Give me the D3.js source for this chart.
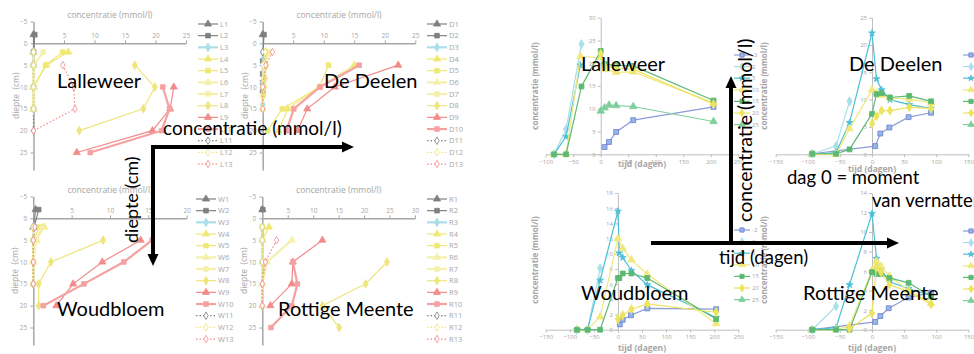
<!DOCTYPE html>
<html>
<head>
<meta charset="utf-8">
<script src="https://cdn.jsdelivr.net/npm/d3@7"></script>
<style>
  body { margin: 0; background: #fff; }
  svg text { font-family: "Open Sans", sans-serif; }
</style>
</head>
<body>
<svg id="chart" width="974" height="354"></svg>
<script>
// ---- depth profiles: [diepte (cm), concentratie (mmol/l)] per series ----
const depthTicks = [-5, 0, 5, 10, 15, 20, 25];

const lalleweerProfiles = [
  [[-2, 0], [2, 0], [5, 0], [10, 0], [15, 0]],
  [[-2, 0.2], [2, 0], [5, 0], [10, 0], [15, 0]],
  [[2, 0], [5, 0], [10, 0], [15, 0]],
  [[2, 5.7], [5, 2.1], [10, 0], [15, 0]],
  [[2, 4.8], [5, 2.0], [10, 0], [15, 0]],
  [[2, 0], [5, 0], [10, 0], [15, 0]],
  [[2, 1.6], [5, 0], [10, 0], [15, 0]],
  [[5, 16.6], [10, 19.9], [15, 18.0], [20, 7.5]],
  [[10, 23.0], [15, 22.4], [20, 19.5], [25, 7.1]],
  [[10, 21.2], [15, 22.3], [20, 21.0], [25, 9.3]],
  [[2, 0], [5, 0], [10, 0], [15, 0], [20, 0]],
  [[2, 0], [5, 0], [10, 0], [15, 0]],
  [[5, 4.8], [10, 6.6], [15, 6.8], [20, 0]]
];

const deelenProfiles = [
  [[-2, 0]],
  [[-2, 0.2], [4, 0], [7, 0], [9, 0], [11, 0]],
  [[2, 0], [9, 0], [14, 0]],
  [[5, 15.0], [10, 9.3], [15, 4.1], [20, 2.6]],
  [[5, 10.8], [10, 9.3], [15, 3.2], [20, 0.8]],
  [[2, 0.7], [5, 0.3], [10, 0], [15, 0]],
  [[2, 1.1], [5, 0.2], [12, 0], [15, 0]],
  [[2, 0.5], [5, 0.6], [8, 0.4], [10, 0.3], [12, 0.1], [15, 0]],
  [[5, 22.2], [10, 11.8], [15, 7.3], [20, 5.7]],
  [[5, 15.8], [10, 9.4], [15, 5.1], [20, 3.9]],
  [[2, 0]],
  [[2, 0.4], [5, 0.1], [10, 0], [15, 0]],
  [[2, 1.6], [5, 0.5], [10, 0], [15, 0]]
];

const woudbloemProfiles = [
  [[-2, 0.3], [2, 0]],
  [[-2, 0.7], [2, 0.1]],
  [[2, 0], [5, 0], [10, 0], [15, 0]],
  [[2, 1.4], [5, 0.4], [10, 0], [15, 0]],
  [[2, 0.8], [5, 0], [10, 0], [15, 0]],
  [[2, 1.2], [5, 0.3], [10, 0], [15, 0]],
  [[2, 0], [5, 0], [10, 0], [15, 0]],
  [[5, 9.1], [10, 2.3], [15, 0.7], [20, 0.7]],
  [[5, 14.0], [10, 9.0], [15, 5.2], [20, 3.0]],
  [[5, 15.5], [10, 11.8], [15, 6.6], [20, 1.3]],
  [[2, 0], [5, 0], [10, 0], [15, 0]],
  [[2, 0], [5, 0], [10, 0], [15, 0]],
  [[2, 0.2], [5, 0], [10, 0], [15, 0]]
];

const meenteProfiles = [
  [[-2, 0]],
  [[-2, 0.1]],
  [[2, 0], [5, 0]],
  [[2, 1.3], [5, 0], [10, 0], [15, 0], [20, 0]],
  [[2, 0], [5, 0], [10, 0]],
  [[5, 5.8], [10, 0.9], [15, 0], [20, 0]],
  [[5, 0], [10, 0]],
  [[10, 24.5], [15, 20.3], [20, 11.8], [25, 15.1]],
  [[5, 11.8], [10, 6.0], [15, 5.8], [20, 1.6]],
  [[10, 6.0], [15, 6.9], [20, 5.8], [25, 1.7]],
  [[2, 0], [5, 0], [10, 0], [15, 0], [20, 0]],
  [[2, 0], [5, 0], [10, 0], [15, 0], [20, 0]],
  [[5, 2.8], [10, 0.6], [15, 0], [20, 0]]
];

// ---- time series: [tijd (dagen), concentratie (mmol/l)] per depth ----
const depthNames = ['-2', '2', '5', '10', '15', '20', '25'];

const lalleweerTime = [
  [[7, 1.6], [15, 2.7], [28, 4.9], [59, 7.5], [205, 10.4]],
  [[-85, 0], [-63, 5.5], [-35, 24.2]],
  [[-85, 0], [-63, 3.9], [-37, 19.6]],
  [[-85, 0], [-63, 0], [-37, 21.5], [0, 21.2], [7, 18.6], [28, 18.0], [59, 18.1], [205, 11.3]],
  [[-85, 0], [-63, 0], [-35, 14.9], [0, 22.7], [7, 19.8], [28, 19.5], [59, 19.4], [205, 11.8]],
  [[0, 22.1], [7, 19.4], [28, 18.9], [59, 18.7], [205, 11.0]],
  [[0, 9.5], [7, 10.2], [15, 10.8], [28, 10.7], [59, 10.5], [205, 7.2]]
];

const deelenTime = [
  [[-93, 0.1], [5, 1.5], [13, 3.8], [27, 4.9], [57, 6.8], [92, 7.6]],
  [[-93, 0.1], [-56, 1.5], [-35, 9.7]],
  [[-93, 0], [-56, 0.3], [-35, 5.8], [0, 22.2], [7, 13.8], [15, 11.8], [28, 10.0], [58, 9.1], [92, 8.4]],
  [[-93, 0], [-56, 0], [-35, 4.7], [0, 11.8], [7, 11.2], [15, 10.8], [28, 10.3], [58, 10.1], [92, 9.4]],
  [[-93, 0.1], [-56, 0.1], [-35, 0.9], [0, 7.4], [7, 11.0], [15, 11.2], [28, 10.4], [58, 10.7], [92, 9.7]],
  [[0, 5.6], [7, 7.0], [15, 8.0], [28, 8.0], [58, 8.6], [92, 8.4]],
  []
];

const woudbloemTime = [
  [[4, 0.7], [10, 1.3], [27, 1.9], [61, 2.8], [204, 2.7]],
  [[-85, 0], [-63, 0], [-37, 8.1]],
  [[-85, 0], [-63, 0], [-37, 6.5], [0, 15.6], [3, 10.1], [10, 9.5], [28, 7.8], [61, 5.9], [204, 1.6]],
  [[-85, 0], [-63, 0], [-37, 1.7], [0, 12.0], [10, 10.7], [28, 9.2], [61, 7.3], [204, 0.8]],
  [[-85, 0], [-63, 0], [-37, 0], [0, 6.8], [3, 6.8], [10, 7.4], [28, 7.4], [61, 6.8], [204, 1.4]],
  [[0, 1.4], [10, 1.9], [28, 2.7], [61, 3.4], [204, 2.3]],
  []
];

const meenteTime = [
  [[-93, 0], [5, 0.8], [13, 1.4], [26, 2.2], [57, 3.3], [92, 3.8]],
  [[-93, 0], [-56, 2.4]],
  [[-93, 0], [-56, 0.2], [-35, 4.6], [0, 11.9], [7, 7.3], [14, 6.2], [27, 4.9], [57, 4.2], [92, 3.5]],
  [[-93, 0], [-56, 0], [-35, 0.4], [0, 6.1], [7, 7.0], [14, 6.5], [27, 5.5], [57, 4.0], [92, 2.7]],
  [[-93, 0], [-56, 0], [-35, 0], [0, 5.9], [7, 5.7], [14, 5.7], [27, 5.3], [57, 4.8], [92, 3.4]],
  [[-35, 0.1], [0, 1.7], [7, 6.4], [14, 5.9], [27, 4.6], [57, 3.9], [92, 2.6]],
  []
];

// ---- styles ----
const grey = '#a6a6a6';
const profileStyles = [
  {c: '#808080', s: 'triangle'},
  {c: '#808080', s: 'square'},
  {c: '#aadfe9', s: 'diamond', w: 2.2},
  {c: '#f0e874', s: 'triangle'},
  {c: '#f0e874', s: 'square'},
  {c: '#f5f0ad', s: 'triangle', w: 2.2},
  {c: '#f5f0ad', s: 'square', w: 2.2},
  {c: '#eee57e', s: 'diamond'},
  {c: '#f28a8a', s: 'triangle'},
  {c: '#f5a1a1', s: 'square', w: 2.2},
  {c: '#808080', s: 'diamond', dash: '1.5,2', hollow: true},
  {c: '#eee57e', s: 'diamond', dash: '1.5,2', hollow: true},
  {c: '#f28a8a', s: 'diamond', dash: '1.5,2', hollow: true}
];
const timeStyles = [
  {c: '#8d9bd8', f: '#95b6e8', st: '#6d7fcb', s: 'square'},
  {c: '#a9dfe9', s: 'diamond'},
  {c: '#4dc0d6', s: 'star'},
  {c: '#f0e87a', s: 'triangle'},
  {c: '#5cb972', s: 'square'},
  {c: '#ece35e', s: 'diamond'},
  {c: '#7fcf9d', s: 'triangle'}
];
const symbols = {
  triangle: d3.symbolTriangle, square: d3.symbolSquare,
  diamond: d3.symbolDiamond, star: d3.symbolStar
};

const svg = d3.select('#chart');

function styleAxis(sel, color, width, fontSize) {
  sel.select('.domain').attr('stroke', color).attr('stroke-width', width);
  sel.selectAll('.tick line').attr('stroke', color);
  sel.selectAll('.tick text')
    .attr('fill', grey)
    .style('font-size', fontSize + 'px')
    .style('font-family', '"Open Sans", sans-serif');
}

function marker(g, st, px, py, size) {
  const sz = st.s === 'star' ? size * 0.6 : (st.hollow ? size * 0.75 : size);
  g.append('path')
    .attr('d', d3.symbol().type(symbols[st.s]).size(sz)())
    .attr('transform', `translate(${px},${py})`)
    .attr('fill', st.hollow ? '#fff' : (st.f || st.c))
    .attr('stroke', st.st || st.c)
    .attr('stroke-width', 0.8);
}

function drawProfile(cfg) {
  const g = svg.append('g');
  const x = d3.scaleLinear().domain([0, cfg.xMax]).range(cfg.xRange);
  const y = d3.scaleLinear().domain([-5, 29]).range(cfg.yRange);

  g.append('g')
    .attr('transform', `translate(${x(0)},0)`)
    .call(d3.axisLeft(y).tickValues(depthTicks).tickSize(3).tickSizeOuter(0).tickPadding(3))
    .call(s => styleAxis(s, grey, 1.5, 6.5));

  g.append('g')
    .attr('transform', `translate(0,${y(0)})`)
    .call(d3.axisTop(x).tickValues(d3.range(5, cfg.xMax + 1, 5)).tickSize(3).tickSizeOuter(0).tickPadding(2))
    .call(s => styleAxis(s, grey, 1.5, 6.5));

  g.append('text')
    .attr('x', (x.range()[0] + x.range()[1]) / 2)
    .attr('y', y(-5) - 4)
    .attr('text-anchor', 'middle')
    .attr('fill', grey)
    .style('font-size', '8.5px')
    .text('concentratie (mmol/l)');

  const midY = (y(-5) + y(29)) / 2;
  g.append('text')
    .attr('transform', `translate(${x(0) - 15},${midY}) rotate(-90)`)
    .attr('text-anchor', 'middle')
    .attr('fill', grey)
    .style('font-size', '8.5px')
    .attr('xml:space', 'preserve')
    .text('diepte  (cm)');

  const line = d3.line().x(d => x(d[1])).y(d => y(d[0]));

  cfg.data.forEach((series, i) => {
    const st = profileStyles[i];
    if (series.length > 1) {
      g.append('path')
        .attr('d', line(series))
        .attr('fill', 'none')
        .attr('stroke', st.c)
        .attr('stroke-width', st.w || 1.2)
        .attr('stroke-dasharray', st.dash || null);
    }
    series.forEach(d => marker(g, st, x(d[1]), y(d[0]), 22));

    // legend
    const ly = cfg.legend[1] + i * 11.67;
    const lx = cfg.legend[0];
    g.append('line')
      .attr('x1', lx).attr('x2', lx + 20).attr('y1', ly).attr('y2', ly)
      .attr('stroke', st.c).attr('stroke-width', st.w || 1.2)
      .attr('stroke-dasharray', st.dash || null);
    marker(g, st, lx + 10, ly, 22);
    g.append('text')
      .attr('x', lx + 22).attr('y', ly).attr('dy', '0.34em')
      .attr('fill', grey)
      .style('font-size', '7.5px')
      .text(cfg.prefix + (i + 1));
  });
}

function drawTime(cfg) {
  const g = svg.append('g');
  const x = d3.scaleLinear().domain(cfg.xDomain).range(cfg.xRange);
  const y = d3.scaleLinear().domain([0, cfg.yMax]).range(cfg.yRange);

  g.append('g')
    .attr('transform', `translate(0,${y(0)})`)
    .call(d3.axisBottom(x).tickValues(d3.range(cfg.xDomain[0], cfg.xDomain[1] + 1, 50)).tickSize(3).tickSizeOuter(0).tickPadding(2))
    .call(s => styleAxis(s, '#bfbfbf', 1, 6));

  g.append('g')
    .attr('transform', `translate(${x(0)},0)`)
    .call(d3.axisLeft(y).tickValues(d3.range(0, cfg.yMax + 0.01, cfg.yStep)).tickSize(3).tickSizeOuter(0).tickPadding(2))
    .call(s => styleAxis(s, '#bfbfbf', 1, 6));

  g.append('text')
    .attr('x', cfg.xLabel[0]).attr('y', cfg.xLabel[1])
    .attr('text-anchor', 'middle')
    .attr('fill', grey)
    .style('font-size', '8.5px')
    .style('font-weight', 'bold')
    .text('tijd (dagen)');

  g.append('text')
    .attr('transform', `translate(${cfg.yLabel[0]},${cfg.yLabel[1]}) rotate(-90)`)
    .attr('text-anchor', 'middle')
    .attr('fill', grey)
    .style('font-size', '8px')
    .style('font-weight', 'bold')
    .text('concentratie (mmol/l)');

  const line = d3.line().x(d => x(d[0])).y(d => y(d[1]));

  cfg.data.forEach((series, i) => {
    const st = timeStyles[i];
    if (series.length > 1) {
      g.append('path')
        .attr('d', line(series))
        .attr('fill', 'none')
        .attr('stroke', st.c)
        .attr('stroke-width', 1.2);
    }
    series.forEach(d => marker(g, st, x(d[0]), y(d[1]), 24));

    const lx = cfg.legend[0];
    const ly = cfg.legend[1] + i * 11.6;
    g.append('line')
      .attr('x1', lx).attr('x2', lx + 16).attr('y1', ly).attr('y2', ly)
      .attr('stroke', st.c).attr('stroke-width', 1.2);
    marker(g, st, lx + 8, ly, 18);
    g.append('text')
      .attr('x', lx + 18).attr('y', ly).attr('dy', '0.34em')
      .attr('fill', grey)
      .style('font-size', '6px')
      .text(depthNames[i]);
  });
}

drawProfile({prefix: 'L', data: lalleweerProfiles, xMax: 25, xRange: [33.5, 186], yRange: [21.5, 170], legend: [198, 24]});
drawProfile({prefix: 'D', data: deelenProfiles, xMax: 25, xRange: [262.7, 415.3], yRange: [21.5, 170], legend: [427, 24]});
drawProfile({prefix: 'W', data: woudbloemProfiles, xMax: 20, xRange: [33.3, 186.7], yRange: [196.5, 345], legend: [196, 199]});
drawProfile({prefix: 'R', data: meenteProfiles, xMax: 30, xRange: [262.3, 415], yRange: [196.5, 345], legend: [427, 199]});

drawTime({data: lalleweerTime, xDomain: [-100, 250], xRange: [545.7, 738.3], yMax: 30, yStep: 5, yRange: [154.3, 17.7], legend: [734, 55], xLabel: [642, 167], yLabel: [538, 86]});
drawTime({data: deelenTime, xDomain: [-150, 150], xRange: [775.7, 968.3], yMax: 25, yStep: 5, yRange: [154.3, 17.7], legend: [963, 55], xLabel: [872, 172], yLabel: [767, 86]});
drawTime({data: woudbloemTime, xDomain: [-150, 250], xRange: [545.7, 738.3], yMax: 18, yStep: 2, yRange: [329.7, 193], legend: [734, 230], xLabel: [642, 351], yLabel: [538, 260]});
drawTime({data: meenteTime, xDomain: [-150, 150], xRange: [775.7, 968.3], yMax: 14, yStep: 2, yRange: [329.7, 193], legend: [963, 231], xLabel: [872, 351], yLabel: [767, 260]});

// ---- overlay annotations ----
const big = svg.append('g');
function bigText(x, yy, txt, size, rotate) {
  const t = big.append('text')
    .attr('fill', '#000')
    .style('font-family', 'Lato, "Open Sans", sans-serif')
    .style('font-size', size + 'px')
    .text(txt);
  if (rotate) t.attr('transform', `translate(${x},${yy}) rotate(-90)`);
  else t.attr('x', x).attr('y', yy);
}
bigText(57, 88, 'Lalleweer', 20);
bigText(324, 88, 'De Deelen', 20);
bigText(57, 316, 'Woudbloem', 20);
bigText(278, 316, 'Rottige Meente', 20);
bigText(581, 71, 'Lalleweer', 20);
bigText(849, 71, 'De Deelen', 20);
bigText(581, 300, 'Woudbloem', 20);
bigText(803, 300, 'Rottige Meente', 20);
bigText(163, 135, 'concentratie (mmol/l)', 19);
bigText(138, 243, 'diepte (cm)', 18, true);
bigText(719, 264, 'tijd (dagen)', 18.5);
bigText(752, 222, 'concentratie (mmol/l)', 19.5, true);
bigText(787, 184, 'dag 0 = moment', 18.5);
bigText(872, 207, 'van vernatter', 18.5);

function arrowHead(tx, ty, dir) {
  // dir: 'right' | 'down' | 'up'
  const L = 12, H = 5.5;
  let pts;
  if (dir === 'right') pts = [[tx, ty], [tx - L, ty - H], [tx - L, ty + H]];
  if (dir === 'down') pts = [[tx, ty], [tx - H, ty - L], [tx + H, ty - L]];
  if (dir === 'up') pts = [[tx, ty], [tx - H, ty + L], [tx + H, ty + L]];
  svg.append('polygon').attr('points', pts.map(p => p.join(',')).join(' ')).attr('fill', '#000');
}
svg.append('path')
  .attr('d', 'M153,256 L153,147 L343,147')
  .attr('fill', 'none').attr('stroke', '#000').attr('stroke-width', 4)
  .attr('stroke-linejoin', 'miter');
arrowHead(354, 147, 'right');
arrowHead(153, 266, 'down');

svg.append('path').attr('d', 'M651,243 L888,243').attr('stroke', '#000').attr('stroke-width', 4);
svg.append('path').attr('d', 'M731,243 L731,86').attr('stroke', '#000').attr('stroke-width', 4);
arrowHead(899, 243, 'right');
arrowHead(731, 76, 'up');
</script>
</body>
</html>
